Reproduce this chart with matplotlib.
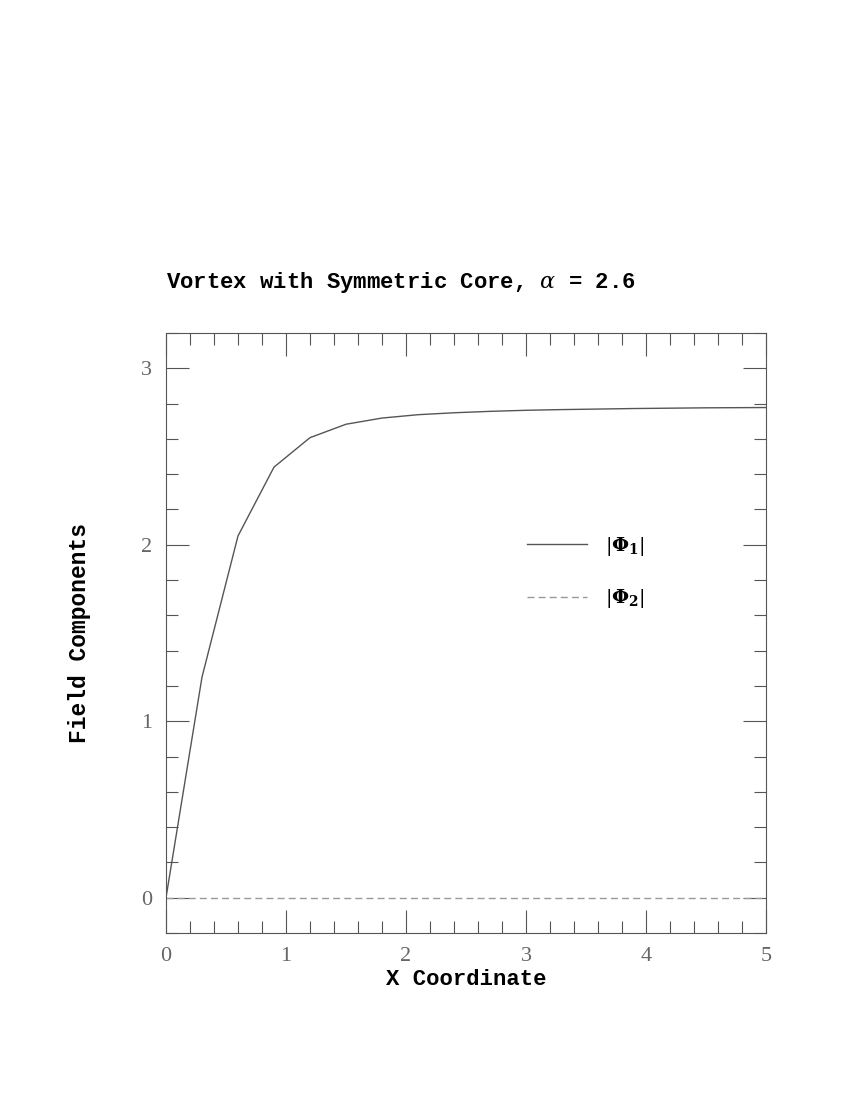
import numpy as np
import matplotlib
matplotlib.use("Agg")
import matplotlib.pyplot as plt
from matplotlib.ticker import MultipleLocator

# field profile (step 0.3 in x)
x_coord = [0.0, 0.3, 0.6, 0.9, 1.2, 1.5, 1.8, 2.1, 2.4, 2.7, 3.0,
           3.3, 3.6, 3.9, 4.2, 4.5, 4.8, 5.1]
phi1 = [0.0, 1.25, 2.05, 2.44, 2.607, 2.683, 2.718, 2.737, 2.748, 2.756,
        2.762, 2.766, 2.769, 2.772, 2.774, 2.776, 2.777, 2.778]
phi2 = [0.0] * len(x_coord)

title = r"Vortex with Symmetric Core, $\alpha$ = 2.6"
xlabel = "X Coordinate"
ylabel = "Field Components"
labels = [r"$|\mathbf{\Phi}_\mathbf{1}|$", r"$|\mathbf{\Phi}_\mathbf{2}|$"]

plt.rcParams['mathtext.fontset'] = 'dejavuserif'
axis_grey = '#555555'
mono = 'Liberation Mono'

fig = plt.figure(figsize=(8.5, 11), dpi=100)
ax = fig.add_axes([166 / 850, 1 - 933 / 1100, 600 / 850, 600 / 1100])

ax.plot(x_coord, phi1, color='#555555', lw=1.0, label=labels[0])
ax.plot(x_coord, phi2, color='#999999', lw=1.0, ls=(0, (5, 3)), label=labels[1])

ax.set_xlim(0, 5)
ax.set_ylim(-0.2, 3.2)
ax.xaxis.set_major_locator(MultipleLocator(1))
ax.xaxis.set_minor_locator(MultipleLocator(0.2))
ax.yaxis.set_major_locator(MultipleLocator(1))
ax.yaxis.set_minor_locator(MultipleLocator(0.2))

ax.tick_params(which='both', direction='in', top=True, right=True,
               color=axis_grey, width=0.8)
ax.tick_params(which='major', length=16.5, pad=10, labelsize=16,
               labelcolor='#666666')
ax.tick_params(which='minor', length=8.6)
for lab in ax.get_xticklabels() + ax.get_yticklabels():
    lab.set_family('Liberation Serif')
for sp in ax.spines.values():
    sp.set_color(axis_grey)
    sp.set_linewidth(0.8)

ax.set_xlabel(xlabel, family=mono, weight='bold', fontsize=16, labelpad=2)
ax.set_ylabel(ylabel, family=mono, weight='bold', fontsize=16.5, labelpad=36)

fig.text(166 / 850, 1 - 288 / 1100, title, family=mono, weight='bold',
         fontsize=16, va='baseline', ha='left')

ax.legend(loc='upper left', bbox_to_anchor=(0.602, 0.663), frameon=False,
          fontsize=14, handlelength=3.1, handletextpad=0.9,
          labelspacing=1.5, borderpad=0, borderaxespad=0)

fig.savefig("out.png", dpi=100)
